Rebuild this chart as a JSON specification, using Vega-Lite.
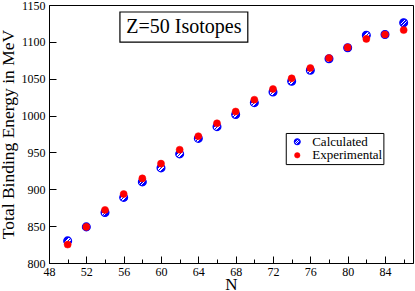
{
  "$schema": "https://vega.github.io/schema/vega-lite/v6.json",
  "width": 364,
  "height": 258,
  "autosize": {"type": "none"},
  "padding": {"left": 49, "top": 5, "right": 2, "bottom": 28},
  "background": "white",
  "config": {
    "view": {"stroke": "black", "strokeWidth": 1},
    "axis": {
      "grid": false,
      "domainColor": "black",
      "tickColor": "black",
      "labelColor": "black",
      "titleColor": "black",
      "labelFont": "Liberation Serif",
      "titleFont": "Liberation Serif",
      "labelFontSize": 12,
      "labelFontWeight": "normal",
      "titleFontSize": 18,
      "titleFontWeight": "normal"
    }
  },
  "data": {
    "values": [
      {"N": 50, "series": "Calculated", "energy": 830},
      {"N": 52, "series": "Calculated", "energy": 849},
      {"N": 54, "series": "Calculated", "energy": 868.5},
      {"N": 56, "series": "Calculated", "energy": 889},
      {"N": 58, "series": "Calculated", "energy": 910},
      {"N": 60, "series": "Calculated", "energy": 929},
      {"N": 62, "series": "Calculated", "energy": 948},
      {"N": 64, "series": "Calculated", "energy": 969},
      {"N": 66, "series": "Calculated", "energy": 985},
      {"N": 68, "series": "Calculated", "energy": 1001.5},
      {"N": 70, "series": "Calculated", "energy": 1017.5},
      {"N": 72, "series": "Calculated", "energy": 1032},
      {"N": 74, "series": "Calculated", "energy": 1046.5},
      {"N": 76, "series": "Calculated", "energy": 1061.5},
      {"N": 78, "series": "Calculated", "energy": 1077},
      {"N": 80, "series": "Calculated", "energy": 1092},
      {"N": 82, "series": "Calculated", "energy": 1109},
      {"N": 84, "series": "Calculated", "energy": 1110},
      {"N": 86, "series": "Calculated", "energy": 1126},
      {"N": 50, "series": "Experimental", "energy": 825},
      {"N": 52, "series": "Experimental", "energy": 849},
      {"N": 54, "series": "Experimental", "energy": 872},
      {"N": 56, "series": "Experimental", "energy": 893.5},
      {"N": 58, "series": "Experimental", "energy": 914.8},
      {"N": 60, "series": "Experimental", "energy": 934.8},
      {"N": 62, "series": "Experimental", "energy": 953.7},
      {"N": 64, "series": "Experimental", "energy": 972},
      {"N": 66, "series": "Experimental", "energy": 989.5},
      {"N": 68, "series": "Experimental", "energy": 1005.5},
      {"N": 70, "series": "Experimental", "energy": 1021.5},
      {"N": 72, "series": "Experimental", "energy": 1036},
      {"N": 74, "series": "Experimental", "energy": 1050.5},
      {"N": 76, "series": "Experimental", "energy": 1064.5},
      {"N": 78, "series": "Experimental", "energy": 1078},
      {"N": 80, "series": "Experimental", "energy": 1092.5},
      {"N": 82, "series": "Experimental", "energy": 1104},
      {"N": 84, "series": "Experimental", "energy": 1110},
      {"N": 86, "series": "Experimental", "energy": 1116}
    ]
  },
  "encoding": {
    "x": {
      "field": "N",
      "type": "quantitative",
      "scale": {"domain": [48, 87], "nice": false, "zero": false},
      "axis": {
        "title": "N",
        "format": "d",
        "values": [48, 50, 52, 54, 56, 58, 60, 62, 64, 66, 68, 70, 72, 74, 76, 78, 80, 82, 84, 86],
        "labelExpr": "datum.value % 4 == 0 ? datum.label : ''",
        "tickSize": {"condition": {"test": "datum.value % 4 == 0", "value": -7}, "value": -4},
        "labelPadding": 10,
        "titlePadding": -1,
        "titleFontSize": 17,
        "labelFlush": false
      }
    },
    "y": {
      "field": "energy",
      "type": "quantitative",
      "scale": {"domain": [800, 1150], "nice": false, "zero": false},
      "axis": {
        "title": "Total Binding Energy in MeV",
        "format": "d",
        "values": [800, 850, 900, 950, 1000, 1050, 1100, 1150],
        "tickSize": -7,
        "labelPadding": 11,
        "titlePadding": 4,
        "titleFontSize": 17.5,
        "labelFlush": false
      }
    }
  },
  "layer": [
    {
      "transform": [{"filter": "datum.series === 'Calculated'"}],
      "mark": {
        "type": "point",
        "filled": true,
        "opacity": 1,
        "size": 60,
        "stroke": "blue",
        "strokeWidth": 1.3,
        "fill": {
          "gradient": "linear",
          "x1": 0, "y1": 0, "x2": 1, "y2": 1,
          "stops": [
            {"offset": 0, "color": "blue"},
            {"offset": 0.36, "color": "blue"},
            {"offset": 0.36, "color": "white"},
            {"offset": 0.47, "color": "white"},
            {"offset": 0.47, "color": "blue"},
            {"offset": 0.55, "color": "blue"},
            {"offset": 0.55, "color": "white"},
            {"offset": 0.66, "color": "white"},
            {"offset": 0.66, "color": "blue"},
            {"offset": 1, "color": "blue"}
          ]
        }
      }
    },
    {
      "transform": [{"filter": "datum.series === 'Experimental'"}],
      "mark": {"type": "point", "filled": true, "opacity": 1, "size": 50, "fill": "red", "stroke": "red", "strokeWidth": 0.5}
    },
    {
      "transform": [{"filter": "datum.N === 50 && datum.series === 'Calculated'"}],
      "mark": {"type": "rect", "fill": "white", "stroke": "black", "strokeWidth": 1.2},
      "encoding": {
        "x": {"datum": 55.6},
        "x2": {"datum": 69.3},
        "y": {"datum": 1140.5},
        "y2": {"datum": 1099.6}
      }
    },
    {
      "transform": [{"filter": "datum.N === 50 && datum.series === 'Calculated'"}],
      "mark": {"type": "text", "font": "Liberation Serif", "fontSize": 20, "fontWeight": "normal", "fill": "black", "align": "center", "baseline": "middle"},
      "encoding": {
        "x": {"datum": 62.45},
        "y": {"datum": 1119.5},
        "text": {"value": "Z=50 Isotopes"}
      }
    },
    {
      "transform": [{"filter": "datum.N === 50 && datum.series === 'Calculated'"}],
      "mark": {"type": "rect", "fill": "white", "stroke": "black", "strokeWidth": 1},
      "encoding": {
        "x": {"datum": 73.42},
        "x2": {"datum": 83.88},
        "y": {"datum": 975.7},
        "y2": {"datum": 933.5}
      }
    },
    {
      "transform": [{"filter": "datum.N === 50 && datum.series === 'Calculated'"}],
      "mark": {
        "type": "point",
        "filled": true,
        "opacity": 1,
        "size": 34,
        "stroke": "blue",
        "strokeWidth": 1.2,
        "fill": {
          "gradient": "linear",
          "x1": 0, "y1": 0, "x2": 1, "y2": 1,
          "stops": [
            {"offset": 0, "color": "blue"},
            {"offset": 0.36, "color": "blue"},
            {"offset": 0.36, "color": "white"},
            {"offset": 0.47, "color": "white"},
            {"offset": 0.47, "color": "blue"},
            {"offset": 0.55, "color": "blue"},
            {"offset": 0.55, "color": "white"},
            {"offset": 0.66, "color": "white"},
            {"offset": 0.66, "color": "blue"},
            {"offset": 1, "color": "blue"}
          ]
        }
      },
      "encoding": {
        "x": {"datum": 74.6},
        "y": {"datum": 964.4}
      }
    },
    {
      "transform": [{"filter": "datum.N === 50 && datum.series === 'Calculated'"}],
      "mark": {"type": "point", "filled": true, "opacity": 1, "size": 30, "fill": "red", "stroke": "red", "strokeWidth": 0.5},
      "encoding": {
        "x": {"datum": 74.6},
        "y": {"datum": 946.1}
      }
    },
    {
      "transform": [{"filter": "datum.N === 50 && datum.series === 'Calculated'"}],
      "mark": {"type": "text", "font": "Liberation Serif", "fontSize": 13, "fontWeight": "normal", "fill": "black", "align": "left", "baseline": "middle"},
      "encoding": {
        "x": {"datum": 76.2},
        "y": {"datum": 964.4},
        "text": {"value": "Calculated"}
      }
    },
    {
      "transform": [{"filter": "datum.N === 50 && datum.series === 'Calculated'"}],
      "mark": {"type": "text", "font": "Liberation Serif", "fontSize": 13, "fontWeight": "normal", "fill": "black", "align": "left", "baseline": "middle"},
      "encoding": {
        "x": {"datum": 76.2},
        "y": {"datum": 946.1},
        "text": {"value": "Experimental"}
      }
    }
  ]
}
